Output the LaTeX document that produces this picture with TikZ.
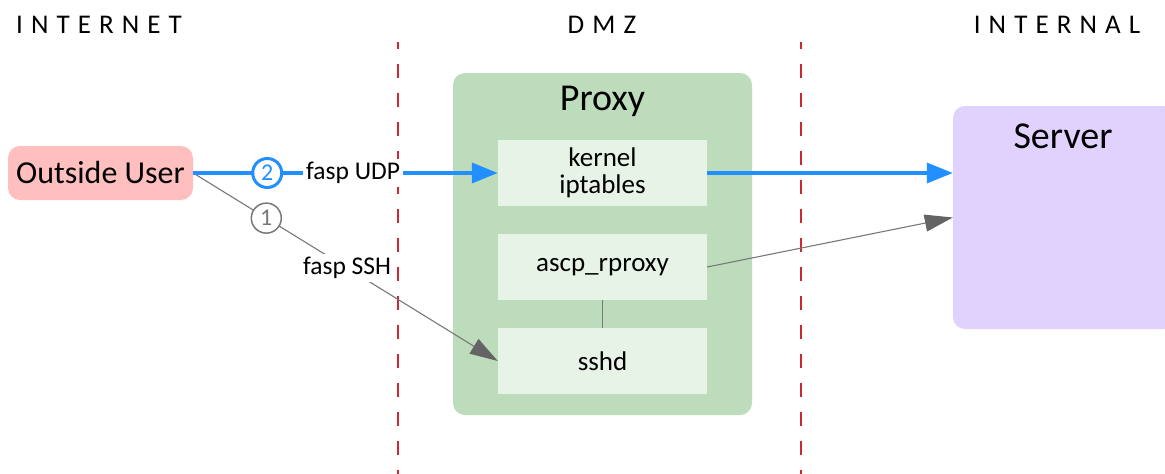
\documentclass[tikz,border=0pt]{standalone}
\usepackage{fontspec}
\setmainfont{Carlito}
\usetikzlibrary{arrows.meta,positioning}
\definecolor{userpink}{RGB}{255,191,191}
\definecolor{proxygreen}{RGB}{189,220,188}
\definecolor{innergreen}{RGB}{232,243,232}
\definecolor{serverlilac}{RGB}{224,209,253}
\definecolor{flowblue}{RGB}{33,143,255}
\definecolor{zonered}{RGB}{204,40,50}
\definecolor{linegray}{RGB}{120,120,120}
\definecolor{headgray}{RGB}{100,100,100}
\tikzset{
  zonelabel/.style={font=\fontsize{27}{30}\selectfont\addfontfeature{LetterSpace=30}, inner sep=0pt},
  bigbox/.style={rounded corners=12pt, inner sep=0pt},
  innerbox/.style={fill=innergreen, minimum width=209pt, minimum height=66pt, inner sep=0pt, align=center,
     font=\fontsize{27}{27}\selectfont},
  titletext/.style={font=\fontsize{38}{40}\selectfont, inner sep=0pt, anchor=base},
  zoneline/.style={draw=zonered, line width=2pt, dash pattern=on 14.5pt off 14.5pt, dash phase=7.5pt},
  blueflow/.style={draw=flowblue, line width=3.5pt, -{Triangle[length=26pt,width=20pt,fill=flowblue]}},
  grayflow/.style={draw=linegray, line width=1.1pt, -{Triangle[length=28pt,width=17pt,fill=headgray,color=headgray]}},
  bluenum/.style={circle, draw=flowblue, line width=3pt, fill=white, text=flowblue, minimum size=29pt, inner sep=0pt,
     font=\fontsize{24}{26}\selectfont},
  graynum/.style={circle, draw=linegray, line width=1.5pt, fill=white, text=linegray, minimum size=30pt, inner sep=0pt,
     font=\fontsize{24}{26}\selectfont},
  flowlabel/.style={fill=white, inner sep=3pt, font=\fontsize{25.5}{28}\selectfont},
}
\begin{document}
\begin{tikzpicture}[x=1pt,y=-1pt]
\clip (0,0) rectangle (1165,474);
\fill[white] (0,0) rectangle (1165,474);

% zone headings
\node[zonelabel] (internet) at (99,25) {INTERNET};
\node[zonelabel] (dmz) at (602,25) {DMZ};
\node[zonelabel] (internal) at (1057,25) {INTERNAL};

% zone borders
\draw[zoneline] (398,42) -- (398,474);
\draw[zoneline] (801,42) -- (801,474);

% boxes
\node[bigbox, fill=userpink, minimum width=185pt, minimum height=54pt, font=\fontsize{32}{34}\selectfont]
  (user) at (100.5,173) {Outside User};
\node[bigbox, fill=proxygreen, minimum width=299pt, minimum height=342pt] (proxy) at (602.5,244) {};
\node[titletext] (proxytitle) at (602.5,110) {Proxy};
\node[innerbox] (kernel) at (602.5,173) {kernel\\iptables};
\node[innerbox] (ascp) at (602.5,267) {ascp\_rproxy};
\node[innerbox] (sshd) at (602.5,361) {sshd};
\node[bigbox, fill=serverlilac, minimum width=222pt, minimum height=223pt] (server) at (1064,217.5) {};
\node[titletext] (servertitle) at (1063,148) {Server};

% connectors
\draw[draw=linegray, line width=1.1pt] (ascp.south) -- (sshd.north);
\draw[grayflow] (ascp.east) -- (server.west);
\draw[grayflow] (user.east) -- node[pos=0.24, graynum] (n1) {1}
   node[pos=0.505, flowlabel] (ssh) {fasp SSH} (sshd.west);
\draw[blueflow] (user.east) -- node[pos=0.243, bluenum] (n2) {2}
   node[pos=0.525, flowlabel] (udp) {fasp UDP} (kernel.west);
\draw[blueflow] (kernel.east) -- (kernel.east -| server.west);
\end{tikzpicture}
\end{document}
